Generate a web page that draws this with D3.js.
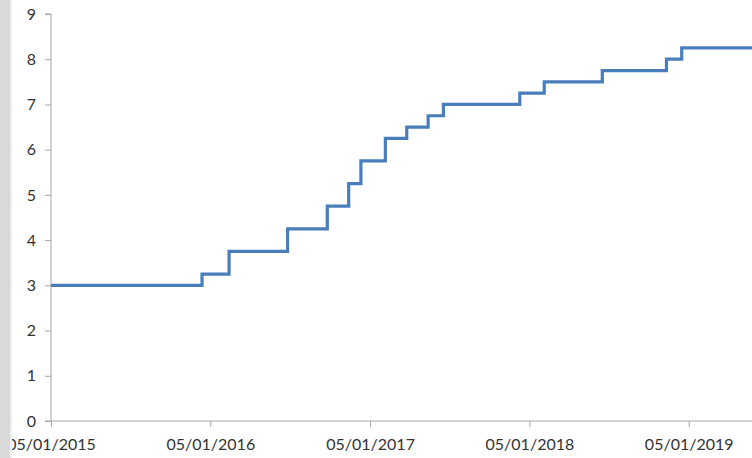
<!DOCTYPE html>
<html lang="en">
<head>
    <meta charset="UTF-8">
    <title>rate steps</title>
    <script src="https://d3js.org/d3.v7.min.js"></script>
    <style>
        body {
            margin: 0;
            background-color: #fff;
        }
        svg {
            display: block;
        }
        .axis text {
            font-family: Lato, "Open Sans", sans-serif;
            font-size: 16px;
            fill: #333333;
        }
        .axis path, .axis line {
            stroke: #a6a6a6;
            stroke-width: 1px;
        }
    </style>
</head>
<body>
<script>
    // step dates (dd/mm/yyyy on the axis) and the level that starts on each date
    var dates = ["2015-01-05", "2015-12-17", "2016-02-17", "2016-06-30", "2016-09-29",
        "2016-11-17", "2016-12-15", "2017-02-09", "2017-03-30", "2017-05-18",
        "2017-06-22", "2017-12-14", "2018-02-08", "2018-06-21", "2018-11-15",
        "2018-12-20", "2019-05-30"];
    var rates = [3, 3.25, 3.75, 4.25, 4.75, 5.25, 5.75, 6.25, 6.5, 6.75,
        7, 7.25, 7.5, 7.75, 8, 8.25, 8.25];
    var tickDates = ["2015-01-05", "2016-01-05", "2017-01-05", "2018-01-05", "2019-01-05"];
    var yTicks = [0, 1, 2, 3, 4, 5, 6, 7, 8, 9];

    var W = 752, H = 458;
    var parse = d3.timeParse("%Y-%m-%d");

    var data = dates.map(function (d, i) {
        return {date: parse(d), value: rates[i]};
    });

    var svg = d3.select("body").append("svg")
        .attr("width", W)
        .attr("height", H);

    svg.append("defs").append("clipPath")
        .attr("id", "clip")
        .append("rect")
        .attr("x", 12).attr("y", 0)
        .attr("width", W - 12).attr("height", H);

    var g = svg.append("g").attr("clip-path", "url(#clip)");

    var x = d3.scaleTime()
        .domain([parse("2015-01-05"), parse("2019-05-30")])
        .range([51, W]);

    var y = d3.scaleLinear()
        .domain([0, 9])
        .range([421, 14]);

    g.append("g")
        .attr("class", "axis")
        .attr("transform", "translate(51,0)")
        .call(d3.axisLeft(y).tickValues(yTicks).tickSize(6).tickPadding(9).tickFormat(d3.format("d")))
        .call(function (a) { a.select(".domain").attr("d", "M-6,14H0V421H-6"); });

    g.append("g")
        .attr("class", "axis")
        .attr("transform", "translate(0,421)")
        .call(d3.axisBottom(x).tickValues(tickDates.map(parse)).tickSize(6).tickPadding(12)
            .tickFormat(d3.timeFormat("%d/%m/%Y")))
        .call(function (a) { a.select(".domain").attr("d", "M51,0H" + W); });

    var line = d3.line()
        .curve(d3.curveStepAfter)
        .x(function (d) { return x(d.date); })
        .y(function (d) { return y(d.value); });

    g.append("path")
        .datum(data)
        .attr("d", line)
        .attr("fill", "none")
        .attr("stroke", "#4a7ebb")
        .attr("stroke-width", 3.2)
        .attr("stroke-linejoin", "miter");

    // grey strip on the left edge
    svg.append("rect")
        .attr("x", 0).attr("y", 0)
        .attr("width", 10).attr("height", H)
        .attr("fill", "#d9d9d9");
    svg.append("rect")
        .attr("x", 10).attr("y", 0)
        .attr("width", 2).attr("height", H)
        .attr("fill", "#eeeeee");
</script>
</body>
</html>
